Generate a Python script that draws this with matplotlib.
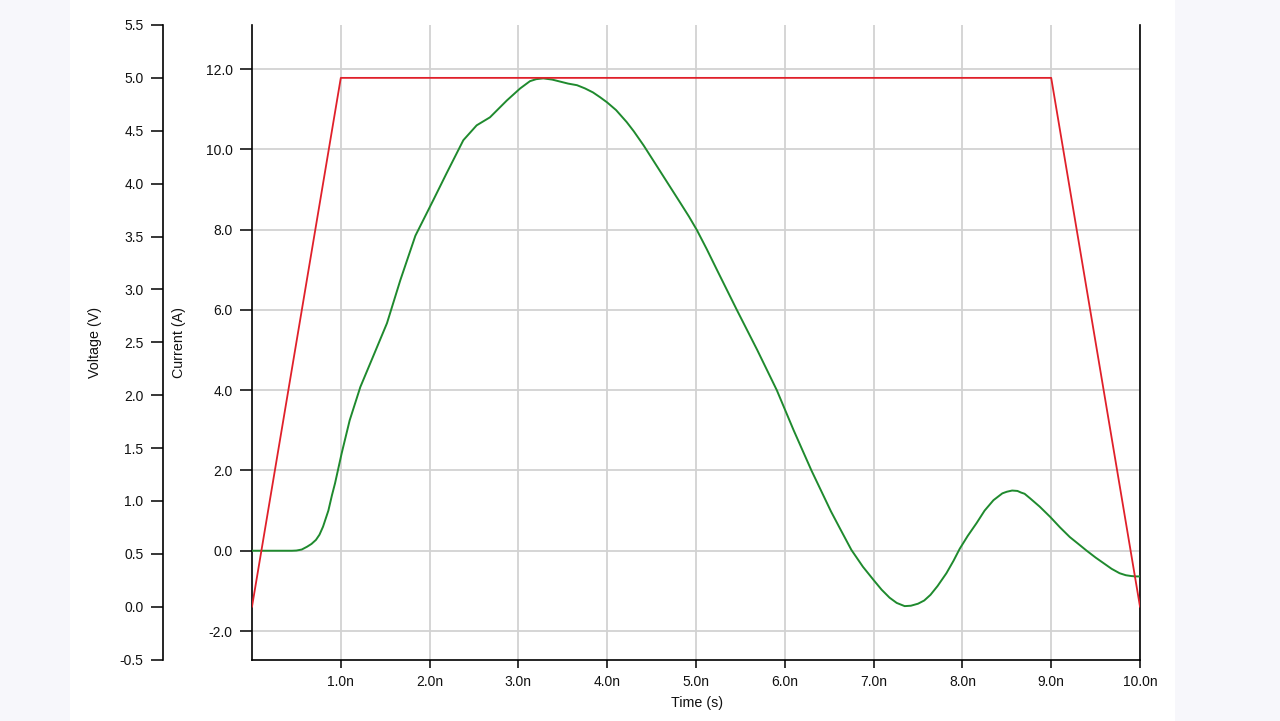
import matplotlib
matplotlib.use("Agg")
import matplotlib.pyplot as plt
from matplotlib.patches import Rectangle
from matplotlib.ticker import FormatStrFormatter

plt.rcParams['font.family'] = ['Liberation Sans', 'DejaVu Sans']

# Voltage trace (V) vs time (ns)
volt_t = [0.0, 1.0, 9.0, 10.0]
volt_v = [0.0, 5.0, 5.0, 0.0]

# Current trace (A) vs time (ns)
curr_t = [0.0, 0.45, 0.50, 0.56, 0.62, 0.67, 0.72, 0.76, 0.80, 0.86, 0.90, 0.935,
          1.01, 1.10, 1.22, 1.36, 1.52, 1.67, 1.84, 2.04, 2.19, 2.38, 2.53, 2.68,
          2.87, 3.02, 3.13, 3.20, 3.28, 3.38, 3.47, 3.56, 3.66, 3.75, 3.84, 3.92,
          4.00, 4.10, 4.22, 4.30, 4.41, 4.52, 4.67, 4.82, 4.92, 5.01, 5.12, 5.24, 5.46, 5.69,
          5.91, 6.10, 6.30, 6.52, 6.62, 6.75, 6.88, 7.00, 7.09, 7.18, 7.26, 7.35, 7.42,
          7.50, 7.57, 7.64, 7.72, 7.82, 7.90, 7.97, 8.06, 8.16, 8.25, 8.35, 8.45,
          8.50, 8.56, 8.62, 8.66, 8.70, 8.76, 8.87, 8.99, 9.10, 9.21, 9.30, 9.40,
          9.50, 9.59, 9.68, 9.77, 9.84, 9.90, 9.95, 10.0]
curr_i = [0.0, 0.0, 0.005, 0.03, 0.10, 0.17, 0.27, 0.40, 0.60, 1.00, 1.38, 1.68,
          2.43, 3.25, 4.08, 4.82, 5.67, 6.74, 7.85, 8.73, 9.40, 10.23, 10.60, 10.80,
          11.22, 11.52, 11.70, 11.75, 11.77, 11.74, 11.69, 11.64, 11.60, 11.52, 11.42, 11.30,
          11.17, 10.98, 10.68, 10.45, 10.10, 9.72, 9.20, 8.68, 8.33, 7.99, 7.52, 6.98, 6.00, 5.00,
          4.00, 3.00, 2.00, 0.98, 0.56, 0.02, -0.40, -0.73, -0.97, -1.17, -1.30, -1.38, -1.37,
          -1.32, -1.24, -1.10, -0.88, -0.56, -0.25, 0.05, 0.37, 0.69, 1.00, 1.26, 1.43,
          1.47, 1.50, 1.49, 1.45, 1.42, 1.31, 1.10, 0.84, 0.58, 0.34, 0.18, 0.00,
          -0.17, -0.31, -0.45, -0.56, -0.61, -0.63, -0.64, -0.64]

x_ticks = [1, 2, 3, 4, 5, 6, 7, 8, 9, 10]
x_labels = ['1.0n', '2.0n', '3.0n', '4.0n', '5.0n', '6.0n', '7.0n', '8.0n', '9.0n', '10.0n']
i_ticks = [-2, 0, 2, 4, 6, 8, 10, 12]
v_ticks = [-0.5, 0.0, 0.5, 1.0, 1.5, 2.0, 2.5, 3.0, 3.5, 4.0, 4.5, 5.0, 5.5]

W, H = 1280, 721
fig = plt.figure(figsize=(W / 100, H / 100), dpi=100, facecolor='#f7f7fb')
fig.patches.append(Rectangle((70 / W, 0), (1175 - 70) / W, 1, transform=fig.transFigure,
                             facecolor='white', edgecolor='none', zorder=-10))

left, right, top, bottom = 252, 1140, 25, 659.5
ax = fig.add_axes([left / W, 1 - bottom / H, (right - left) / W, (bottom - top) / H])
ax.set_facecolor('white')

spine_w = 1.2
tick_kw = dict(direction='out', width=1.1, color='black', labelsize=10, labelcolor='#111111')

# Current axis
ax.plot(curr_t, curr_i, color='#1f8a2e', lw=1.4, zorder=3,
        solid_joinstyle='round', solid_capstyle='round')
ax.set_xlim(0, 10)
ax.set_ylim(-2.71, 13.10)
ax.set_xticks(x_ticks)
ax.set_xticklabels(x_labels)
ax.set_yticks(i_ticks)
ax.yaxis.set_major_formatter(FormatStrFormatter('%.1f'))
ax.tick_params(axis='y', length=9, pad=5, **tick_kw)
ax.tick_params(axis='x', length=6, pad=5, **tick_kw)
ax.grid(True, color='#d2d2d2', lw=1.3)
ax.set_axisbelow(True)
for s in ['left', 'bottom', 'right']:
    ax.spines[s].set_color('black')
    ax.spines[s].set_linewidth(spine_w)
ax.spines['top'].set_visible(False)

# Voltage axis (offset to the left)
ax2 = ax.twinx()
ax2.plot(volt_t, volt_v, color='#e0202a', lw=1.3, zorder=4)
ax2.set_ylim(-0.5, 5.5)
ax2.set_yticks(v_ticks)
ax2.yaxis.set_major_formatter(FormatStrFormatter('%.1f'))
ax2.yaxis.set_ticks_position('left')
ax2.yaxis.set_label_position('left')
ax2.spines['left'].set_position(('outward', (252 - 163) * 0.72))
ax2.spines['left'].set_visible(True)
ax2.spines['left'].set_color('black')
ax2.spines['left'].set_linewidth(spine_w)
for s in ['right', 'top', 'bottom']:
    ax2.spines[s].set_visible(False)
ax2.tick_params(axis='y', length=9, pad=5, **tick_kw)

fig.text(95 / W, 1 - 342 / H, 'Voltage (V)', rotation=90, ha='center', va='center',
         fontsize=10.3, color='#111111')
fig.text(179 / W, 1 - 342 / H, 'Current (A)', rotation=90, ha='center', va='center',
         fontsize=10.3, color='#111111')
fig.text(697 / W, 1 - 703 / H, 'Time (s)', ha='center', va='center',
         fontsize=10.3, color='#111111')

fig.savefig('out.png', dpi=100, facecolor=fig.get_facecolor())
